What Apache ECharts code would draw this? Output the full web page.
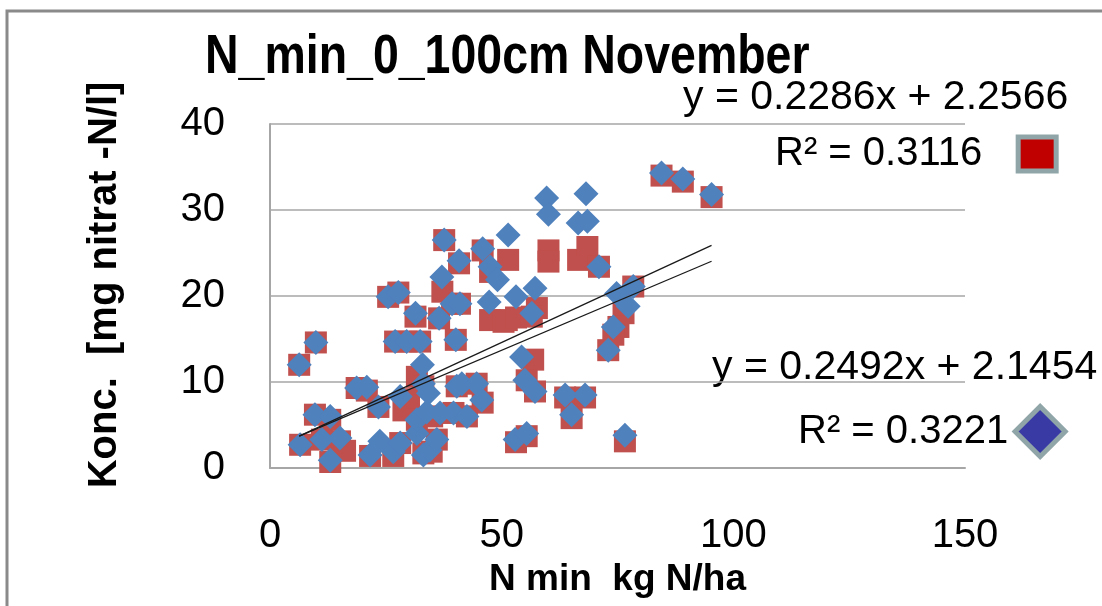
<!DOCTYPE html>
<html><head><meta charset="utf-8">
<script src="https://cdn.jsdelivr.net/npm/echarts@6/dist/echarts.min.js"></script>
<style>html,body{margin:0;padding:0;background:#fff}#c{width:1102px;height:606px}</style>
</head><body><div id="c"></div>
<script>
// ---- data ----
const titleText = 'N_min_0_100cm November';
const xName = 'N min  kg N/ha';
const yName = 'Konc.  [mg nitrat -N/l]';
const xTicks = [0, 50, 100, 150];
const yTicks = [0, 10, 20, 30, 40];

// red squares
const redPoints = [
  [6.3,12.0],[9.9,14.6],[37.6,26.5],[40.8,23.8],[45.9,25.3],[37.2,20.5],[25.5,19.9],[27.7,20.4],
  [31.4,17.6],[36.5,17.4],[39.3,19.1],[41.0,19.1],[47.5,17.2],[50.4,17.0],[47.5,22.8],[27.0,14.7],
  [29.5,14.7],[32.4,14.7],[40.1,14.9],[31.7,10.6],[18.7,9.3],[20.9,9.0],[23.4,7.1],[28.8,6.7],
  [30.0,8.0],[33.1,9.5],[40.3,9.5],[44.6,9.8],[45.9,7.6],[42.5,6.0],[39.6,6.4],[9.7,6.2],
  [13.0,5.6],[6.5,2.7],[11.2,3.3],[15.1,3.1],[13.0,0.7],[21.6,1.4],[26.6,1.4],[28.1,2.9],
  [33.1,1.7],[34.9,1.9],[36.0,3.3],[31.7,5.6],[35.0,6.0],[16.2,2.0],
  [84.5,34.0],[89.1,33.3],[95.3,31.5],[60.1,25.3],[60.1,24.0],[66.5,24.2],[68.5,25.7],[51.4,24.2],
  [71.0,23.4],[51.1,17.2],[53.1,17.5],[57.6,18.6],[56.5,17.6],[78.4,21.1],[76.3,18.0],[75.2,16.4],
  [74.1,15.5],[73.0,13.7],[56.8,12.6],[55.4,10.2],[57.2,8.9],[63.7,8.2],[68.0,8.2],[65.1,5.8],
  [53.1,3.0],[55.4,3.7],[76.6,3.1]
];
// blue diamonds
const bluePoints = [
  [6.3,12.0],[9.9,14.6],[37.6,26.5],[40.8,24.1],[45.9,25.5],[37.1,22.2],[25.5,19.9],[27.7,20.4],
  [31.4,18.0],[36.5,17.4],[39.3,19.1],[41.0,19.1],[47.3,19.3],[47.5,23.4],[49.1,21.9],[27.0,14.7],
  [29.5,14.7],[32.4,14.7],[40.1,14.9],[32.9,12.0],[18.7,9.3],[20.9,9.4],[23.4,7.1],[28.1,8.3],
  [33.1,9.8],[34.2,8.7],[40.3,9.5],[41.4,9.8],[44.6,9.8],[45.7,7.9],[39.6,6.4],[42.5,6.0],
  [9.7,6.2],[13.0,6.0],[6.5,2.7],[11.2,3.3],[15.1,3.5],[13.0,0.9],[21.6,1.5],[23.7,3.1],
  [26.6,1.9],[28.1,2.9],[31.7,4.0],[33.1,1.5],[34.5,2.1],[36.0,3.3],[31.7,5.6],[33.8,6.5],[36.7,6.4],
  [84.5,34.3],[89.1,33.6],[95.3,31.8],[59.7,31.4],[60.1,29.5],[68.2,31.9],[66.5,28.5],[68.5,28.7],
  [51.4,27.1],[71.0,23.4],[53.1,19.9],[57.2,20.9],[56.5,18.0],[74.8,20.3],[78.4,21.1],[77.3,18.8],
  [74.1,16.4],[73.0,13.7],[54.3,12.9],[55.0,10.2],[57.2,8.9],[63.7,8.5],[68.0,8.5],[65.1,6.2],
  [52.9,3.3],[55.4,4.0],[76.6,3.8]
];
// trend line equations (as printed in the chart)
const redFit = [0.2286, 2.2566];
const blueFit = [0.2492, 2.1454];
const redLabels = ['y = 0.2286x + 2.2566', 'R² = 0.3116'];
const blueLabels = ['y = 0.2492x + 2.1454', 'R² = 0.3221'];

// ---- chart ----
const FONT = 'Liberation Sans';
const xs = bluePoints.map(p => p[0]);
const xMin = Math.min(...xs), xMax = Math.max(...xs);
const fitLine = f => [[xMin, f[0]*xMin + f[1]], [xMax, f[0]*xMax + f[1]]];

const chart = echarts.init(document.getElementById('c'));
chart.setOption({
  animation: false,
  backgroundColor: '#fff',
  grid: { left: 270, right: 137, top: 124, bottom: 138 },
  xAxis: {
    type: 'value', min: xTicks[0], max: xTicks[xTicks.length-1], interval: 50,
    name: xName, nameLocation: 'middle', nameGap: 92,
    nameTextStyle: { fontFamily: FONT, fontWeight: 'bold', fontSize: 37, color: '#000' },
    axisLine: { show: true, lineStyle: { color: '#a6a6a6', width: 2 } },
    axisTick: { show: false },
    splitLine: { show: false },
    axisLabel: { fontFamily: FONT, fontSize: 40, color: '#000', margin: 48 }
  },
  yAxis: {
    type: 'value', min: yTicks[0], max: yTicks[yTicks.length-1], interval: 10,
    name: yName, nameLocation: 'middle', nameGap: 145, nameRotate: 90,
    nameTextStyle: { fontFamily: FONT, fontWeight: 'bold', fontSize: 40, color: '#000', padding: [0,0,0,22] },
    axisLine: { show: true, lineStyle: { color: '#a6a6a6', width: 2 } },
    axisTick: { show: false },
    splitLine: { show: true, lineStyle: { color: '#a6a6a6', width: 1.5 } },
    axisLabel: { fontFamily: FONT, fontSize: 40, color: '#000', margin: 45 }
  },
  legend: [
    {
      data: [{ name: 'Serie1', icon: 'rect', itemStyle: { color: '#c00000', borderColor: '#8fa5a8', borderWidth: 5 } }],
      left: 775, top: 134, align: 'right', itemWidth: 38, itemHeight: 34, padding: 0, selectedMode: false,
      formatter: () => redLabels[1],
      textStyle: { fontFamily: FONT, fontSize: 40, color: '#000', padding: [0, 31, 0, 0], lineHeight: 40 }
    },
    {
      data: [{ name: 'Serie2', icon: 'diamond', itemStyle: { color: '#3a3aa5', borderColor: '#8fa5a8', borderWidth: 5 } }],
      left: 798, top: 404, align: 'right', itemWidth: 50, itemHeight: 50, padding: 0, selectedMode: false,
      formatter: () => blueLabels[1],
      textStyle: { fontFamily: FONT, fontSize: 40, color: '#000', padding: [0, 2, 0, 0], lineHeight: 40 }
    }
  ],
  graphic: [
    { type: 'rect', shape: { x: 7, y: 11, width: 1200, height: 700 }, style: { fill: 'none', stroke: '#8a8a8a', lineWidth: 3 }, z: -1, silent: true },
    { type: 'text', x: 205, y: 58, scaleX: 0.83, scaleY: 1.0,
      style: { text: titleText, font: 'bold 56px "Liberation Sans"', fill: '#000', align: 'left', verticalAlign: 'middle' } },
    { type: 'text', x: 683, y: 98, style: { text: redLabels[0], font: '41px "Liberation Sans"', fill: '#000', align: 'left', verticalAlign: 'middle' } },
    { type: 'text', x: 712, y: 368, style: { text: blueLabels[0], font: '41px "Liberation Sans"', fill: '#000', align: 'left', verticalAlign: 'middle' } }
  ],
  series: [
    { name: 'Serie1', type: 'scatter', data: redPoints, symbol: 'rect', symbolSize: 22,
      itemStyle: { color: '#c0504d', opacity: 1 } },
    { name: 'Serie2', type: 'scatter', data: bluePoints, symbol: 'diamond', symbolSize: 25,
      itemStyle: { color: '#4f81bd', opacity: 1 } },
    { name: 'Trend1', type: 'line', data: fitLine(redFit), symbol: 'none', silent: true,
      lineStyle: { color: '#1a1a1a', width: 1.3 }, z: 5 },
    { name: 'Trend2', type: 'line', data: fitLine(blueFit), symbol: 'none', silent: true,
      lineStyle: { color: '#1a1a1a', width: 1.3 }, z: 5 }
  ]
});
</script></body></html>
